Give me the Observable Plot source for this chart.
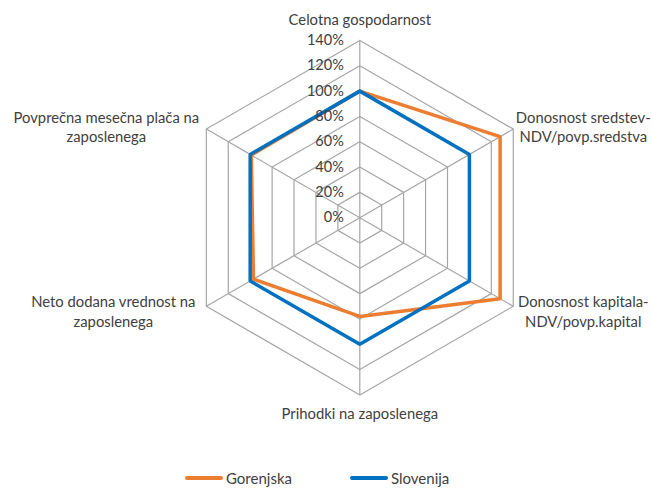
<!DOCTYPE html>
<html><head><meta charset="utf-8">
<script src="https://cdn.jsdelivr.net/npm/d3@7"></script>
<script src="https://cdn.jsdelivr.net/npm/@observablehq/plot@0.6"></script>
<style>
body{margin:0;background:#fff;font-family:Lato,sans-serif}
#wrap{position:relative;width:652px;height:488px;overflow:hidden}
#legend{position:absolute;left:0;top:468px;width:652px;height:20px;font-size:15px;color:#404040}
.item{position:absolute;top:0;display:flex;align-items:center;height:20px}
.sw{width:38px;height:4px;border-radius:2px;margin-right:3px}
</style>
</head><body><div id="wrap"></div>
<script>
const categories = ["Celotna gospodarnost","Donosnost sredstev-\nNDV/povp.sredstva","Donosnost kapitala-\nNDV/povp.kapital","Prihodki na zaposlenega","Neto dodana vrednost na\nzaposlenega","Povprečna mesečna plača na\nzaposlenega"];
const gorenjska = [100,128,128,78,97,99];
const slovenija = [100,100,100,100,100,100];
const tickValues = [0,20,40,60,80,100,120,140];
const seriesNames = ["Gorenjska","Slovenija"];
const seriesColors = ["#ED7D31","#0070C0"];

const maxR = 140;
const n = categories.length;
const ang = i => i * 2 * Math.PI / n;
const px = (r,i) => r * Math.sin(ang(i));
const py = (r,i) => r * Math.cos(ang(i));

const rings = [];
tickValues.filter(v => v > 0).forEach(v => {
  for (let k = 0; k <= n; k++) rings.push({level: v, x: px(v, k % n), y: py(v, k % n)});
});
const spokes = categories.map((c,i) => ({x1: 0, y1: 0, x2: px(maxR,i), y2: py(maxR,i)}));
const series = [];
[gorenjska, slovenija].forEach((vals, s) => {
  for (let k = 0; k <= n; k++) series.push({name: seriesNames[s], x: px(vals[k % n], k % n), y: py(vals[k % n], k % n)});
});
const ticks = tickValues.map(v => ({x: 0, y: v, t: v + "%"}));

const cx = 359.3, cy = 217.2, R = 177.2;
const labelOffsets = [[0,-22],[70,-3],[70,4],[0,18],[-93,4],[-100,-3]];
const labelMarks = categories.map((c,i) => Plot.text([{x: px(maxR,i), y: py(maxR,i), t: c}], {
  x: "x", y: "y", text: "t", dx: labelOffsets[i][0], dy: labelOffsets[i][1],
  textAnchor: "middle", lineAnchor: "middle", lineHeight: 1.35, fontSize: 14.8, fill: "#404040"
}));

const chart = Plot.plot({
  width: 652, height: 466,
  margin: 0,
  x: {domain: [-maxR, maxR], range: [cx - R, cx + R], axis: null},
  y: {domain: [-maxR, maxR], range: [cy + R, cy - R], axis: null},
  color: {domain: seriesNames, range: seriesColors},
  style: {fontFamily: "Lato, sans-serif", background: "#fff"},
  marks: [
    Plot.line(rings, {x: "x", y: "y", z: "level", stroke: "#A6A6A6", strokeWidth: 1.2}),
    Plot.link(spokes, {x1: "x1", y1: "y1", x2: "x2", y2: "y2", stroke: "#A6A6A6", strokeWidth: 1.2}),
    Plot.line(series, {x: "x", y: "y", z: "name", stroke: "name", strokeWidth: 3.5, strokeLinejoin: "miter"}),
    Plot.text(ticks, {x: "x", y: "y", text: "t", dx: -16, textAnchor: "end", fontSize: 14.5, fill: "#404040"}),
    ...labelMarks
  ]
});
const wrap = document.getElementById("wrap");
wrap.appendChild(chart);
const legend = document.createElement("div");
legend.id = "legend";
const lefts = [185, 350];
seriesNames.forEach((s,i) => {
  const it = document.createElement("div");
  it.className = "item";
  it.style.left = lefts[i] + "px";
  it.innerHTML = `<div class="sw" style="background:${seriesColors[i]}"></div><span>${s}</span>`;
  legend.appendChild(it);
});
wrap.appendChild(legend);
</script>
</body></html>
